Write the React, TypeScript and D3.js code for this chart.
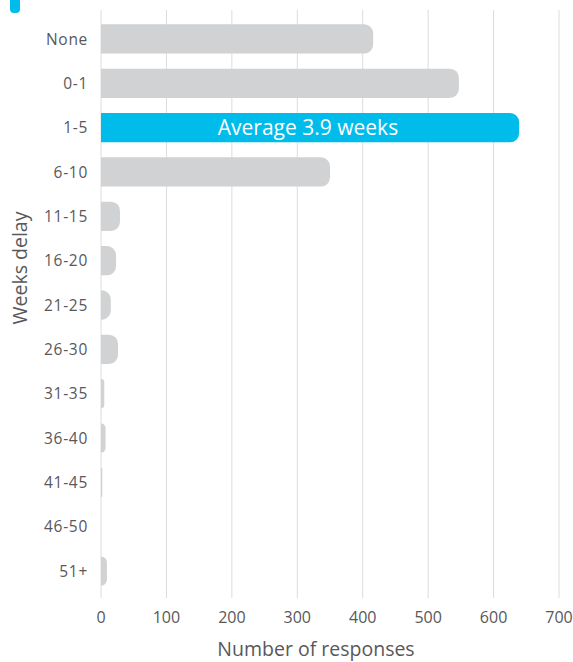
import { useEffect, useRef } from 'react';
import * as d3 from 'd3';

const categories = ['None', '0-1', '1-5', '6-10', '11-15', '16-20', '21-25', '26-30', '31-35', '36-40', '41-45', '46-50', '51+'];
const responses = [416, 547, 639, 350, 29, 23, 15, 26, 5, 7, 2, 0, 9];
const xTicks = [0, 100, 200, 300, 400, 500, 600, 700];
const highlight = '1-5';
const highlightLabel = 'Average 3.9 weeks';

const W = 573;
const H = 662;
const FONT = '"Open Sans", "Noto Sans", sans-serif';
const TEXT = '#58585b';

// right-rounded bar path
function barPath(x0: number, y0: number, w: number, h: number, r: number) {
  const rr = Math.min(r, w, h / 2);
  const p = d3.path();
  p.moveTo(x0, y0);
  p.lineTo(x0 + w - rr, y0);
  p.arcTo(x0 + w, y0, x0 + w, y0 + rr, rr);
  p.lineTo(x0 + w, y0 + h - rr);
  p.arcTo(x0 + w, y0 + h, x0 + w - rr, y0 + h, rr);
  p.lineTo(x0, y0 + h);
  p.closePath();
  return p.toString();
}

export default function App() {
  const svgRef = useRef<SVGSVGElement>(null);

  useEffect(() => {
    if (!svgRef.current) return;
    const svg = d3.select(svgRef.current);
    svg.selectAll('*').remove();

    const x = d3.scaleLinear().domain([0, 700]).range([101, 559]);
    const y = d3.scaleBand<string>().domain(categories).range([16.8, 593.2]).paddingInner(0.34).paddingOuter(0.17);

    // decoration at top left
    svg.append('rect')
      .attr('x', 10).attr('y', -10)
      .attr('width', 10).attr('height', 23)
      .attr('rx', 4)
      .attr('fill', '#00bceb');

    // grid lines
    svg.append('g').selectAll('line')
      .data(xTicks)
      .join('line')
      .attr('x1', d => x(d)).attr('x2', d => x(d))
      .attr('y1', 10).attr('y2', 598)
      .attr('stroke', '#dcdcdc')
      .attr('stroke-width', 1);

    // bars
    svg.append('g').selectAll('path')
      .data(categories)
      .join('path')
      .attr('d', (c, i) => barPath(x(0), y(c)!, x(responses[i]) - x(0), y.bandwidth(), 9))
      .attr('fill', c => c === highlight ? '#00bceb' : '#d1d2d4');

    // average label
    svg.append('text')
      .attr('x', 308)
      .attr('y', y(highlight)! + y.bandwidth() / 2)
      .attr('dy', '0.36em')
      .attr('text-anchor', 'middle')
      .attr('fill', '#ffffff')
      .attr('font-family', FONT)
      .attr('font-size', 21)
      .attr('font-weight', 400)
      .text(highlightLabel);

    // category labels
    svg.append('g').selectAll('text')
      .data(categories)
      .join('text')
      .attr('x', 88)
      .attr('y', c => y(c)! + y.bandwidth() / 2)
      .attr('dy', '0.36em')
      .attr('text-anchor', 'end')
      .attr('fill', TEXT)
      .attr('font-family', FONT)
      .attr('font-size', 15.5)
      .attr('font-weight', 400)
      .attr('letter-spacing', 0.7)
      .text(c => c);

    // x tick labels
    svg.append('g').selectAll('text')
      .data(xTicks)
      .join('text')
      .attr('x', d => x(d))
      .attr('y', 617)
      .attr('dy', '0.36em')
      .attr('text-anchor', 'middle')
      .attr('fill', TEXT)
      .attr('font-family', FONT)
      .attr('font-size', 16)
      .attr('font-weight', 400)
      .text(d => d);

    // axis titles
    svg.append('text')
      .attr('x', 316)
      .attr('y', 649)
      .attr('dy', '0.36em')
      .attr('text-anchor', 'middle')
      .attr('fill', TEXT)
      .attr('font-family', FONT)
      .attr('font-size', 19.5)
      .attr('font-weight', 400)
      .text('Number of responses');

    svg.append('text')
      .attr('transform', 'translate(20, 268) rotate(-90)')
      .attr('dy', '0.36em')
      .attr('text-anchor', 'middle')
      .attr('fill', TEXT)
      .attr('font-family', FONT)
      .attr('font-size', 19.5)
      .attr('font-weight', 400)
      .text('Weeks delay');
  }, []);

  return (
    <svg ref={svgRef} width={W} height={H} style={{ position: 'absolute', left: 0, top: 0 }} />
  );
}
